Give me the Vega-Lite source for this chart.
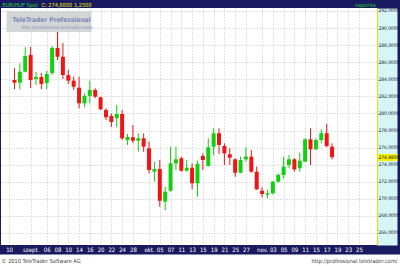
{
  "$schema": "https://vega.github.io/schema/vega-lite/v6.json",
  "width": 376,
  "height": 237,
  "autosize": {"type": "none"},
  "padding": {"left": 1, "top": 8, "right": 23, "bottom": 21},
  "background": "#1a1a60",
  "config": {
    "view": {"fill": "#ffffff", "stroke": null},
    "axis": {
      "labelFont": "DejaVu Sans Condensed, sans-serif",
      "titleFont": "DejaVu Sans Condensed, sans-serif"
    }
  },
  "data": {
    "values": [
      {"i": 0, "date": "2010-08-27", "open": 283.92, "high": 285.29, "low": 282.83, "close": 283.60},
      {"i": 1, "date": "2010-08-30", "open": 283.60, "high": 285.87, "low": 282.83, "close": 284.89},
      {"i": 2, "date": "2010-08-31", "open": 284.89, "high": 287.75, "low": 284.80, "close": 286.73},
      {"i": 3, "date": "2010-09-01", "open": 286.85, "high": 287.80, "low": 282.98, "close": 283.92},
      {"i": 4, "date": "2010-09-02", "open": 284.04, "high": 284.86, "low": 283.33, "close": 284.27},
      {"i": 5, "date": "2010-09-03", "open": 284.27, "high": 284.74, "low": 282.86, "close": 283.45},
      {"i": 6, "date": "2010-09-06", "open": 283.57, "high": 284.97, "low": 282.86, "close": 284.62},
      {"i": 7, "date": "2010-09-07", "open": 284.74, "high": 287.90, "low": 284.50, "close": 287.67},
      {"i": 8, "date": "2010-09-08", "open": 287.67, "high": 289.57, "low": 286.26, "close": 286.64},
      {"i": 9, "date": "2010-09-09", "open": 286.65, "high": 288.25, "low": 284.04, "close": 284.50},
      {"i": 10, "date": "2010-09-10", "open": 284.50, "high": 285.10, "low": 283.45, "close": 283.84},
      {"i": 11, "date": "2010-09-13", "open": 283.84, "high": 284.30, "low": 282.75, "close": 283.13},
      {"i": 12, "date": "2010-09-14", "open": 283.02, "high": 284.30, "low": 280.60, "close": 281.19},
      {"i": 13, "date": "2010-09-15", "open": 281.19, "high": 282.36, "low": 280.72, "close": 282.05},
      {"i": 14, "date": "2010-09-16", "open": 282.05, "high": 283.84, "low": 281.19, "close": 282.75},
      {"i": 15, "date": "2010-09-17", "open": 282.75, "high": 282.95, "low": 281.78, "close": 281.96},
      {"i": 16, "date": "2010-09-20", "open": 281.89, "high": 281.96, "low": 280.40, "close": 280.49},
      {"i": 17, "date": "2010-09-21", "open": 280.40, "high": 280.60, "low": 279.23, "close": 279.55},
      {"i": 18, "date": "2010-09-22", "open": 279.70, "high": 280.00, "low": 278.40, "close": 279.00},
      {"i": 19, "date": "2010-09-23", "open": 279.43, "high": 281.00, "low": 278.38, "close": 279.94},
      {"i": 20, "date": "2010-09-24", "open": 279.94, "high": 280.40, "low": 276.90, "close": 277.09},
      {"i": 21, "date": "2010-09-27", "open": 276.89, "high": 277.59, "low": 276.31, "close": 277.24},
      {"i": 22, "date": "2010-09-28", "open": 277.21, "high": 278.65, "low": 276.54, "close": 276.81},
      {"i": 23, "date": "2010-09-29", "open": 276.81, "high": 277.68, "low": 275.52, "close": 277.09},
      {"i": 24, "date": "2010-09-30", "open": 277.09, "high": 277.68, "low": 275.52, "close": 276.11},
      {"i": 25, "date": "2010-10-01", "open": 275.92, "high": 276.69, "low": 272.99, "close": 273.38},
      {"i": 26, "date": "2010-10-04", "open": 273.18, "high": 274.35, "low": 272.01, "close": 273.50},
      {"i": 27, "date": "2010-10-05", "open": 273.50, "high": 274.55, "low": 269.08, "close": 269.78},
      {"i": 28, "date": "2010-10-06", "open": 269.67, "high": 271.42, "low": 268.69, "close": 270.84},
      {"i": 29, "date": "2010-10-07", "open": 270.95, "high": 276.11, "low": 270.84, "close": 274.16},
      {"i": 30, "date": "2010-10-08", "open": 274.16, "high": 276.11, "low": 273.38, "close": 274.63},
      {"i": 31, "date": "2010-10-11", "open": 274.75, "high": 274.94, "low": 273.18, "close": 273.30},
      {"i": 32, "date": "2010-10-12", "open": 273.30, "high": 274.55, "low": 273.18, "close": 273.65},
      {"i": 33, "date": "2010-10-13", "open": 273.65, "high": 274.16, "low": 271.12, "close": 271.82},
      {"i": 34, "date": "2010-10-14", "open": 271.82, "high": 274.47, "low": 270.25, "close": 274.08},
      {"i": 35, "date": "2010-10-15", "open": 275.02, "high": 275.33, "low": 273.38, "close": 274.55},
      {"i": 36, "date": "2010-10-18", "open": 273.85, "high": 277.09, "low": 273.77, "close": 276.04},
      {"i": 37, "date": "2010-10-19", "open": 276.11, "high": 278.26, "low": 275.13, "close": 277.68},
      {"i": 38, "date": "2010-10-20", "open": 277.68, "high": 278.26, "low": 275.25, "close": 276.31},
      {"i": 39, "date": "2010-10-21", "open": 276.19, "high": 276.50, "low": 273.96, "close": 275.33},
      {"i": 40, "date": "2010-10-22", "open": 275.22, "high": 275.92, "low": 273.96, "close": 274.82},
      {"i": 41, "date": "2010-10-25", "open": 274.63, "high": 274.75, "low": 272.59, "close": 273.06},
      {"i": 42, "date": "2010-10-26", "open": 273.06, "high": 274.94, "low": 272.99, "close": 274.55},
      {"i": 43, "date": "2010-10-27", "open": 274.63, "high": 276.04, "low": 274.35, "close": 274.94},
      {"i": 44, "date": "2010-10-28", "open": 274.94, "high": 275.72, "low": 273.06, "close": 273.18},
      {"i": 45, "date": "2010-10-29", "open": 273.18, "high": 273.77, "low": 271.04, "close": 271.12},
      {"i": 46, "date": "2010-11-01", "open": 270.95, "high": 271.35, "low": 270.18, "close": 270.57},
      {"i": 47, "date": "2010-11-02", "open": 270.49, "high": 271.04, "low": 270.06, "close": 270.65},
      {"i": 48, "date": "2010-11-03", "open": 270.65, "high": 272.10, "low": 270.50, "close": 272.01},
      {"i": 49, "date": "2010-11-04", "open": 272.01, "high": 272.99, "low": 271.89, "close": 272.79},
      {"i": 50, "date": "2010-11-05", "open": 272.79, "high": 274.94, "low": 272.40, "close": 273.77},
      {"i": 51, "date": "2010-11-08", "open": 273.96, "high": 275.13, "low": 273.58, "close": 274.63},
      {"i": 52, "date": "2010-11-09", "open": 274.63, "high": 274.75, "low": 273.18, "close": 273.46},
      {"i": 53, "date": "2010-11-10", "open": 273.58, "high": 275.40, "low": 273.18, "close": 274.47},
      {"i": 54, "date": "2010-11-11", "open": 274.35, "high": 277.09, "low": 274.35, "close": 276.97},
      {"i": 55, "date": "2010-11-12", "open": 276.97, "high": 278.26, "low": 273.96, "close": 275.80},
      {"i": 56, "date": "2010-11-15", "open": 275.80, "high": 277.10, "low": 275.70, "close": 276.89},
      {"i": 57, "date": "2010-11-16", "open": 276.89, "high": 278.14, "low": 276.50, "close": 277.68},
      {"i": 58, "date": "2010-11-17", "open": 277.68, "high": 278.77, "low": 276.04, "close": 276.19},
      {"i": 59, "date": "2010-11-18", "open": 276.11, "high": 276.50, "low": 274.63, "close": 274.88}
    ]
  },
  "layer": [
    {
      "transform": [{"filter": "datum.close >= datum.open"}],
      "mark": {"type": "rule", "color": "#10d010", "strokeWidth": 1},
      "encoding": {
        "x": {
          "field": "i", "type": "quantitative",
          "scale": {"domain": [-1.573, 66.42], "nice": false, "zero": false},
          "axis": {
            "orient": "bottom",
            "values": [-1, 3, 6, 8, 10, 12, 14, 16, 18, 20, 22, 25, 27, 29, 31, 33, 35, 37, 39, 41, 43, 46, 48, 50, 52, 54, 56, 58, 60, 62, 64],
            "labelExpr": "['10','','','','szept.','','','06','','08','','10','','14','','16','','20','','22','','24','','28','','','okt.','','05','','07','','11','','13','','15','','19','','21','','25','','27','','','nov.','','03','','05','','09','','11','','15','','17','','19','','23','','25'][datum.value + 1]",
            "domain": false, "ticks": false, "grid": false,
            "labelColor": "#ffffff", "labelFontSize": 6, "labelBaseline": "top", "labelPadding": 1.8,
            "labelOverlap": false, "labelFlush": false, "labelBound": false,
            "zindex": 3,
            "title": "© 2010 TeleTrader Software AG",
            "titleX": 0, "titleY": 15, "titleAlign": "left", "titleBaseline": "middle",
            "titleColor": "#404040", "titleFontSize": 5.6, "titleFontWeight": "normal"
          }
        },
        "y": {
          "field": "low", "type": "quantitative",
          "scale": {"domain": [264.594, 292.35], "nice": false, "zero": false},
          "axis": {
            "orient": "right",
            "values": [266, 268, 270, 272, 274, 276, 278, 280, 282, 284, 286, 288, 290, 292],
            "labelExpr": "replace(format(datum.value, '.4f'), '.', ',')",
            "domain": true, "domainColor": "#ece000", "domainWidth": 1,
            "ticks": false, "grid": false,
            "labelColor": "#101030", "labelFontSize": 4.9, "labelPadding": 1,
            "labelAlign": "left", "labelBaseline": "middle",
            "labelOverlap": false, "labelFlush": false, "labelBound": false,
            "zindex": 2,
            "title": "http://professional.teletrader.com/",
            "titleAngle": 0, "titleX": -356, "titleY": 19, "titleAlign": "left", "titleBaseline": "middle",
            "titleColor": "#7d8cb8", "titleFontSize": 4.6, "titleFontWeight": "normal"
          }
        },
        "y2": {"field": "high"}
      }
    },
    {
      "transform": [{"filter": "datum.close < datum.open"}],
      "mark": {"type": "rule", "color": "#f01414", "strokeWidth": 1},
      "encoding": {
        "x": {
          "field": "i", "type": "quantitative",
          "scale": {"domain": [-1.573, 66.42], "nice": false, "zero": false},
          "axis": {
            "orient": "bottom", "offset": 32,
            "values": [-1, 3, 6, 8, 10, 12, 14, 16, 18, 20, 22, 25, 27, 29, 31, 33, 35, 37, 39, 41, 43, 46, 48, 50, 52, 54, 56, 58, 60, 62, 64],
            "domain": true, "domainColor": "#ffffff", "domainWidth": 46, "domainCap": "square",
            "labels": false, "ticks": false,
            "grid": true, "gridColor": "#c4c4c4", "gridDash": [1, 2],
            "zindex": 0,
            "title": "http://professional.teletrader.com/",
            "titleX": 396, "titleY": -17, "titleAlign": "right", "titleBaseline": "middle",
            "titleColor": "#404040", "titleFontSize": 5.6, "titleFontWeight": "normal"
          }
        },
        "y": {
          "field": "low", "type": "quantitative",
          "scale": {"domain": [264.594, 292.35], "nice": false, "zero": false},
          "axis": {
            "orient": "right", "offset": 10,
            "values": [266, 268, 270, 272, 274, 276, 278, 280, 282, 284, 286, 288, 290, 292],
            "domain": true, "domainColor": "#d6f6f6", "domainWidth": 20, "domainCap": "butt",
            "labels": false, "ticks": false,
            "grid": true, "gridColor": "#c4c4c4", "gridDash": [1, 2],
            "zindex": 0,
            "title": "naponta",
            "titleAngle": 0, "titleX": -12, "titleY": -4, "titleAlign": "right", "titleBaseline": "middle",
            "titleColor": "#22c822", "titleFontSize": 5.6, "titleFontWeight": "normal"
          }
        },
        "y2": {"field": "high"}
      }
    },
    {
      "transform": [{"filter": "datum.close >= datum.open"}],
      "mark": {"type": "bar", "color": "#10d010", "size": 4},
      "encoding": {
        "x": {
          "field": "i", "type": "quantitative",
          "scale": {"domain": [-1.573, 66.42], "nice": false, "zero": false},
          "axis": {
            "orient": "top",
            "domain": false, "ticks": false, "labels": false, "grid": false,
            "title": "EUR/HUF Spot",
            "titleX": 1, "titleY": -4, "titleAlign": "left", "titleBaseline": "middle",
            "titleColor": "#28d028", "titleFontSize": 5.6, "titleFontWeight": "normal"
          }
        },
        "y": {
          "field": "open", "type": "quantitative",
          "scale": {"domain": [264.594, 292.35], "nice": false, "zero": false},
          "axis": {
            "orient": "right",
            "values": [274.88],
            "labelExpr": "'274,8800'",
            "domain": false, "grid": false,
            "ticks": true, "tickSize": 20, "tickWidth": 7, "tickColor": "#f8f400",
            "labelColor": "#000000", "labelFontSize": 4.9, "labelPadding": -19,
            "labelAlign": "left", "labelBaseline": "middle",
            "labelOverlap": false, "labelFlush": false, "labelBound": false,
            "zindex": 4,
            "title": "C: 274,8800  1,2500",
            "titleAngle": 0, "titleX": -336, "titleY": -4, "titleAlign": "left", "titleBaseline": "middle",
            "titleColor": "#e8e800", "titleFontSize": 5.6, "titleFontWeight": "normal"
          }
        },
        "y2": {"field": "close"}
      }
    },
    {
      "transform": [{"filter": "datum.close < datum.open"}],
      "mark": {"type": "bar", "color": "#f01414", "size": 4},
      "encoding": {
        "x": {
          "field": "i", "type": "quantitative",
          "scale": {"domain": [-1.573, 66.42], "nice": false, "zero": false},
          "axis": null
        },
        "y": {
          "field": "open", "type": "quantitative",
          "scale": {"domain": [264.594, 292.35], "nice": false, "zero": false},
          "axis": {
            "orient": "left", "offset": -5,
            "values": [290.81],
            "domain": false, "labels": false, "grid": false,
            "ticks": true, "tickSize": -85, "tickWidth": 21, "tickColor": "#cfd1d4", "tickOpacity": 0.92,
            "zindex": 1,
            "title": "TeleTrader Professional",
            "titleAngle": 0, "titleX": 6, "titleY": 11, "titleAlign": "left", "titleBaseline": "middle",
            "titleColor": "#7b8bb8", "titleFontSize": 6.6, "titleFontWeight": "bold"
          }
        },
        "y2": {"field": "close"}
      }
    }
  ],
  "resolve": {"axis": {"x": "independent", "y": "independent"}}
}
